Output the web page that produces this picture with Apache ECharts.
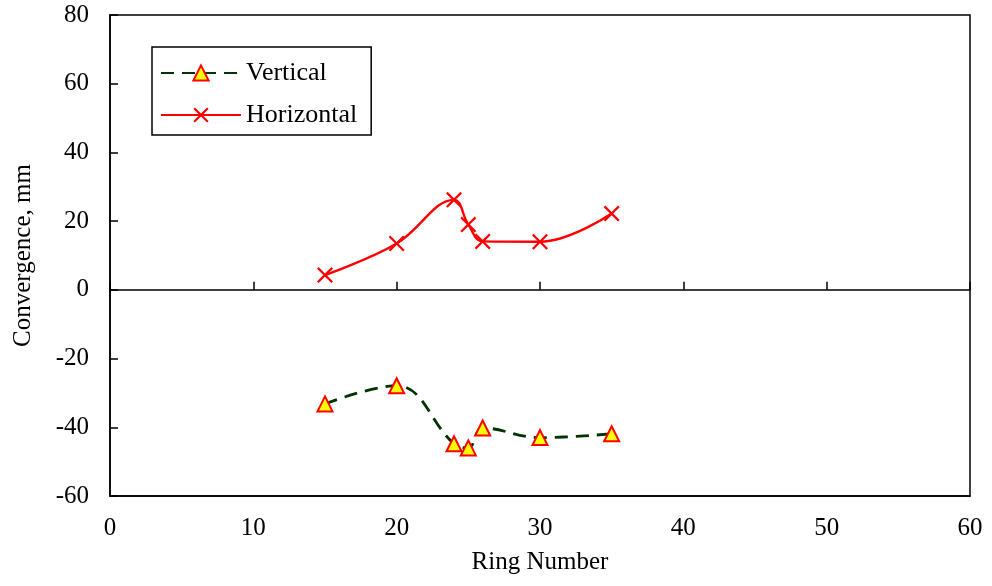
<!DOCTYPE html>
<html><head><meta charset="utf-8">
<script src="https://cdn.jsdelivr.net/npm/echarts@6/dist/echarts.min.js"></script>
<style>html,body{margin:0;padding:0;background:#fff}#c{width:992px;height:586px}</style>
</head><body><div id="c"></div>
<script>
var ringNumbers = [15, 20, 24, 25, 26, 30, 35];
var verticalValues = [-33.2, -27.9, -44.8, -46, -40.2, -43, -41.9];
var horizontalValues = [4.3, 13.5, 26.2, 19, 14.1, 14, 22.2];
var xTicks = [0, 10, 20, 30, 40, 50, 60];
var yTicks = [-60, -40, -20, 0, 20, 40, 60, 80];

var font = '"Liberation Serif","Times New Roman",serif';
var xShape = 'path://M0,1L1,0L5,4L9,0L10,1L6,5L10,9L9,10L5,6L1,10L0,9L4,5Z';
function pairs(vals){ return ringNumbers.map(function(x,i){ return [x, vals[i]]; }); }

var chart = echarts.init(document.getElementById('c'), null, {renderer:'canvas'});
chart.setOption({
  animation:false,
  backgroundColor:'#fff',
  textStyle:{fontFamily:font},
  grid:{left:110, right:22, top:15, bottom:90, show:true, borderColor:'#000', borderWidth:1.5, backgroundColor:'transparent'},
  legend:{
    orient:'vertical', left:152, top:47,
    backgroundColor:'#fff', borderColor:'#000', borderWidth:1.5,
    padding:[13,14,7,8], itemGap:16, itemWidth:80, itemHeight:19,
    textStyle:{fontFamily:font, fontSize:26, color:'#000'},
    data:['Vertical','Horizontal']
  },
  xAxis:[{
    type:'value', min:xTicks[0], max:xTicks[xTicks.length-1], interval:10,
    axisLine:{show:true, onZero:false, lineStyle:{color:'#000', width:1.5}},
    axisTick:{show:false}, splitLine:{show:false},
    axisLabel:{fontFamily:font, fontSize:25, color:'#000', margin:20},
    name:'Ring Number', nameLocation:'middle', nameGap:54,
    nameTextStyle:{fontFamily:font, fontSize:25, color:'#000'}
  },{
    type:'value', min:xTicks[0], max:xTicks[xTicks.length-1], interval:10, position:'bottom',
    axisLine:{show:true, onZero:true, lineStyle:{color:'#000', width:1.5}},
    axisTick:{show:true, inside:true, length:8, lineStyle:{color:'#000', width:1.5}},
    axisLabel:{show:false}, splitLine:{show:false}
  }],
  yAxis:{
    type:'value', min:yTicks[0], max:yTicks[yTicks.length-1], interval:20,
    axisLine:{show:true, lineStyle:{color:'#000', width:1.5}},
    axisTick:{show:true, inside:true, length:8, lineStyle:{color:'#000', width:1.5}},
    splitLine:{show:false},
    axisLabel:{fontFamily:font, fontSize:25, color:'#000', margin:21},
    name:'Convergence, mm', nameLocation:'middle', nameGap:74, nameRotate:90,
    nameTextStyle:{fontFamily:font, fontSize:25, color:'#000'}
  },
  series:[{
    name:'Vertical', type:'line', xAxisIndex:0, data:pairs(verticalValues),
    smooth:0.4, symbol:'triangle', symbolSize:15,
    lineStyle:{color:'#003300', width:2.8, type:[13,8]},
    itemStyle:{color:'#ffff00', borderColor:'#ff0000', borderWidth:2}
  },{
    name:'Horizontal', type:'line', xAxisIndex:0, data:pairs(horizontalValues),
    smooth:0.4, symbol:xShape, symbolSize:16,
    lineStyle:{color:'#ff0000', width:2.4},
    itemStyle:{color:'#ff0000', borderColor:'#ff0000', borderWidth:0}
  }]
});
</script></body></html>
